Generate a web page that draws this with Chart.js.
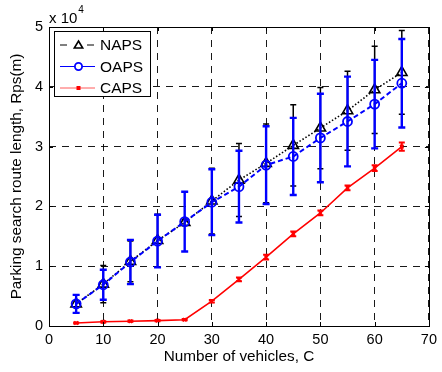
<!DOCTYPE html>
<html>
<head>
<meta charset="utf-8">
<script src="https://cdn.jsdelivr.net/npm/chart.js@4/dist/chart.umd.min.js"></script>
<style>
  html, body { margin: 0; padding: 0; background: #fff; }
  #wrap { width: 442px; height: 372px; position: relative; }
</style>
</head>
<body>
<div id="wrap"><canvas id="c" width="442" height="372"></canvas></div>
<script>
// Number of vehicles C
const vehicles = [5, 10, 15, 20, 25, 30, 35, 40, 45, 50, 55, 60, 65];

// Mean parking search route length Rps (m) and spread (m)
const napsMean = [3700, 7000, 10800, 14300, 17300, 20900, 24400, 27200, 30200, 33100, 36000, 39500, 42400];
const napsErr  = [1500, 3100, 3400, 4400, 500, 5500, 6100, 6600, 6800, 6800, 6600, 7300, 7000];

const oapsMean = [3700, 6900, 10700, 14200, 17450, 20700, 23300, 26900, 28350, 31450, 34200, 37100, 40600];
const oapsErr  = [1500, 2500, 3700, 4400, 5000, 5500, 6000, 6500, 6450, 7400, 7500, 7400, 7400];

const capsMean = [500, 700, 800, 900, 1050, 4150, 7800, 11500, 15400, 18900, 23100, 26400, 30000];
const capsErr  = [100, 100, 100, 100, 100, 200, 300, 400, 400, 400, 400, 500, 700];

// Axis ticks
const xTicks = [0, 10, 20, 30, 40, 50, 60, 70];
const yTicks = [0, 10000, 20000, 30000, 40000, 50000];

const FONT = "'Liberation Sans', Arial, Helvetica, sans-serif";

function pts(means) {
  return vehicles.map((v, i) => ({ x: v, y: means[i] }));
}

// Vertical error bars with caps, drawn under each dataset's line
const errorBars = {
  id: 'errorBars',
  beforeDatasetDraw(chart, args) {
    const ds = chart.data.datasets[args.index];
    if (!ds.errors) return;
    const { ctx } = chart;
    const xs = chart.scales.x, ys = chart.scales.y;
    ctx.save();
    ctx.strokeStyle = ds.errColor;
    ctx.lineWidth = ds.errWidth;
    ctx.setLineDash([]);
    ds.data.forEach((p, i) => {
      const x = xs.getPixelForValue(p.x);
      const yt = ys.getPixelForValue(p.y + ds.errors[i]);
      const yb = ys.getPixelForValue(p.y - ds.errors[i]);
      const hw = ds.capHalf;
      ctx.beginPath();
      ctx.moveTo(x, yt); ctx.lineTo(x, yb);
      ctx.moveTo(x - hw, yt); ctx.lineTo(x + hw, yt);
      ctx.moveTo(x - hw, yb); ctx.lineTo(x + hw, yb);
      ctx.stroke();
    });
    ctx.restore();
  }
};

// Axes box with inward tick marks on all four sides
const axesBox = {
  id: 'axesBox',
  afterDatasetsDraw(chart) {
    const { ctx, chartArea: a } = chart;
    const xs = chart.scales.x, ys = chart.scales.y;
    ctx.save();
    ctx.setLineDash([]);
    ctx.strokeStyle = '#000';
    ctx.lineWidth = 1;
    ctx.strokeRect(Math.round(a.left) + 0.5, Math.round(a.top) + 0.5,
                   Math.round(a.right - a.left), Math.round(a.bottom - a.top));
    const tl = 4;
    ctx.beginPath();
    xTicks.forEach(v => {
      const x = Math.round(xs.getPixelForValue(v)) + 0.5;
      ctx.moveTo(x, a.bottom); ctx.lineTo(x, a.bottom - tl);
      ctx.moveTo(x, a.top); ctx.lineTo(x, a.top + tl);
    });
    yTicks.forEach(v => {
      const y = Math.round(ys.getPixelForValue(v)) + 0.5;
      ctx.moveTo(a.left, y); ctx.lineTo(a.left + tl, y);
      ctx.moveTo(a.right, y); ctx.lineTo(a.right - tl, y);
    });
    ctx.stroke();

    // exponent of the y axis
    ctx.fillStyle = '#000';
    ctx.textBaseline = 'alphabetic';
    ctx.textAlign = 'left';
    ctx.font = '15px ' + FONT;
    ctx.fillText('x 10', 49, 23);
    const w = ctx.measureText('x 10').width;
    ctx.font = '10px ' + FONT;
    ctx.fillText('4', 49 + w + 1, 13);
    ctx.restore();
  }
};

// Legend box in the upper left of the axes
const legendBox = {
  id: 'legendBox',
  afterDraw(chart) {
    const { ctx } = chart;
    ctx.save();
    const bx = 54, by = 31, bw = 96, bh = 65;
    ctx.fillStyle = '#fff';
    ctx.fillRect(bx, by, bw, bh);
    ctx.strokeStyle = '#000';
    ctx.lineWidth = 1;
    ctx.setLineDash([]);
    ctx.strokeRect(bx + 0.5, by + 0.5, bw, bh);

    const x0 = 60, x1 = 95, mx = 78.5, tx = 100;
    const rows = [45, 66.5, 88];
    ctx.font = '15.5px ' + FONT;
    ctx.textBaseline = 'middle';
    ctx.textAlign = 'left';

    // NAPS
    let y = rows[0];
    ctx.strokeStyle = '#000';
    ctx.lineWidth = 1;
    ctx.setLineDash([7, 20]);
    ctx.beginPath(); ctx.moveTo(x0, y); ctx.lineTo(x1, y); ctx.stroke();
    ctx.setLineDash([]);
    ctx.lineWidth = 1.6;
    ctx.beginPath();
    ctx.moveTo(mx, y - 4); ctx.lineTo(mx + 4.2, y + 3); ctx.lineTo(mx - 4.2, y + 3); ctx.closePath();
    ctx.stroke();
    ctx.fillStyle = '#000';
    ctx.fillText('NAPS', tx, y + 1);

    // OAPS
    y = rows[1];
    ctx.strokeStyle = '#0000ff';
    ctx.lineWidth = 1;
    ctx.beginPath(); ctx.moveTo(x0, y); ctx.lineTo(x1, y); ctx.stroke();
    ctx.lineWidth = 1.8;
    ctx.fillStyle = '#fff';
    ctx.beginPath(); ctx.arc(mx, y, 3.6, 0, Math.PI * 2); ctx.fill(); ctx.stroke();
    ctx.fillStyle = '#000';
    ctx.fillText('OAPS', tx, y + 1);

    // CAPS
    y = rows[2];
    ctx.strokeStyle = '#ff5a5a';
    ctx.lineWidth = 1;
    ctx.beginPath(); ctx.moveTo(x0, y); ctx.lineTo(x1, y); ctx.stroke();
    ctx.fillStyle = '#ff0000';
    ctx.fillRect(mx - 2, y - 2, 4, 4);
    ctx.fillStyle = '#000';
    ctx.fillText('CAPS', tx, y + 1);
    ctx.restore();
  }
};

new Chart(document.getElementById('c'), {
  type: 'line',
  data: {
    datasets: [
      {
        label: 'NAPS',
        data: pts(napsMean),
        errors: napsErr, errColor: '#000', errWidth: 1.5, capHalf: 3,
        borderColor: '#000', borderWidth: 1.6, borderDash: [1.5, 2],
        pointStyle: 'triangle', pointRadius: 6, pointBorderWidth: 1.6,
        pointBorderColor: '#000', pointBackgroundColor: 'rgba(0,0,0,0)',
        fill: false, tension: 0, order: 3
      },
      {
        label: 'OAPS',
        data: pts(oapsMean),
        errors: oapsErr, errColor: '#0000ff', errWidth: 2.4, capHalf: 3.5,
        borderColor: '#0000ff', borderWidth: 2, borderDash: [5, 3],
        pointStyle: 'circle', pointRadius: 4.5, pointBorderWidth: 1.8,
        pointBorderColor: '#0000ff', pointBackgroundColor: 'rgba(0,0,0,0)',
        fill: false, tension: 0, order: 2
      },
      {
        label: 'CAPS',
        data: pts(capsMean),
        errors: capsErr, errColor: '#ff0000', errWidth: 2, capHalf: 3,
        borderColor: '#ff0000', borderWidth: 1.6,
        pointStyle: 'crossRot', pointRadius: 2.5, pointBorderWidth: 1.6,
        pointBorderColor: '#ff0000', pointBackgroundColor: '#ff0000',
        fill: false, tension: 0, order: 1
      }
    ]
  },
  options: {
    responsive: false,
    animation: false,
    layout: { padding: { left: 0, right: 10, top: 27, bottom: 0 } },
    plugins: { legend: { display: false }, tooltip: { enabled: false } },
    scales: {
      x: {
        type: 'linear', min: 0, max: 70,
        afterBuildTicks(s) { s.ticks = xTicks.map(v => ({ value: v })); },
        afterFit(s) { s.height = 46; },
        ticks: { color: '#000', font: { family: FONT, size: 14.5 }, padding: 5, maxRotation: 0 },
        grid: { color: '#000', lineWidth: 0.9, drawTicks: false },
        border: { display: false, dash: [7, 6] },
        title: {
          display: true, text: 'Number of vehicles, C', color: '#000',
          font: { family: FONT, size: 15.3 }, padding: { top: 0, bottom: 6 }
        }
      },
      y: {
        type: 'linear', min: 0, max: 50000,
        afterBuildTicks(s) { s.ticks = yTicks.map(v => ({ value: v })); },
        afterFit(s) { s.width = 49; },
        ticks: {
          color: '#000', font: { family: FONT, size: 14.5 }, padding: 6,
          callback: v => String(v / 10000)
        },
        grid: { color: '#000', lineWidth: 0.9, drawTicks: false },
        border: { display: false, dash: [7, 6] },
        title: {
          display: true, text: 'Parking search route length, Rps(m)', color: '#000',
          font: { family: FONT, size: 15.3 }, padding: { top: 8, bottom: 0 }
        }
      }
    }
  },
  plugins: [errorBars, axesBox, legendBox]
});
</script>
</body>
</html>
